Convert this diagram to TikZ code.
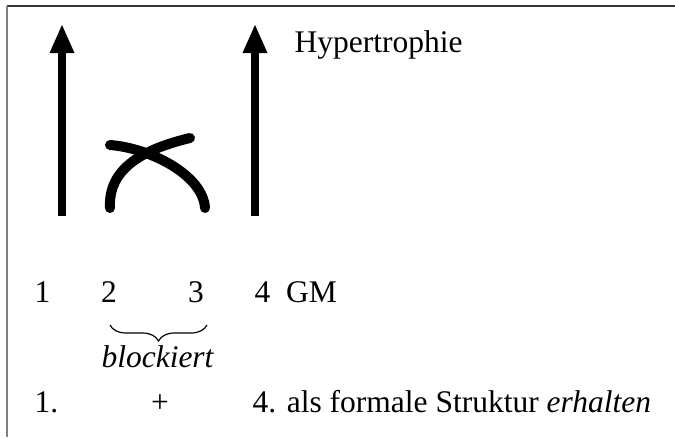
\documentclass[tikz,border=0pt]{standalone}
\usepackage{fontspec}
\setmainfont{Liberation Serif}
\usetikzlibrary{decorations.pathreplacing}
\begin{document}
\begin{tikzpicture}[x=1pt,y=-1pt,
  txt/.style={inner sep=0pt,anchor=base west,font=\fontsize{31.5}{38}\selectfont},
  txtc/.style={inner sep=0pt,anchor=base,font=\fontsize{31.5}{38}\selectfont},
  shaft/.style={line width=8pt},
  stroke/.style={line width=10pt,line cap=round,line join=round},
  head/.style={fill=black}]
\useasboundingbox (0,0) rectangle (675,437);
% frame
\draw[line width=1.5pt,black!80] (7,6) -- (675,6);
\draw[line width=1.5pt,black!50] (7,6) -- (7,437);
% arrows
\coordinate (a1b) at (62,216);
\coordinate (a1t) at (62,50);
\draw[shaft] (a1b) -- (a1t);
\fill[head] (49.5,53) -- (62,25) -- (74.5,53) -- cycle;
\coordinate (a2b) at (255,216);
\coordinate (a2t) at (255,50);
\draw[shaft] (a2b) -- (a2t);
\fill[head] (242.5,53) -- (255,25) -- (267.5,53) -- cycle;
% crossed curves
\draw[stroke] (110,208) .. controls (108,170) and (140,150) .. (190,138);
\draw[stroke] (110,145) .. controls (150,148) and (203,175) .. (205,208);
% texts
\node[txt] (hyp) at (294.5,52) {Hypertrophie};
\node[txt] (n1) at (34.5,302) {1};
\node[txt] (n2) at (101,302) {2};
\node[txt] (n3) at (188,302) {3};
\node[txt] (n4) at (254.5,302) {4};
\node[txt] (gm) at (286,302) {GM};
\draw[line width=1.2pt,decorate,decoration={brace,mirror,amplitude=16pt}] (110,325) -- (207,325);
\node[txtc] (bl) at (157.5,367) {\itshape blockiert};
\node[txt] (m1) at (34.5,412) {1.};
\node[txtc] (plus) at (160,412) {+};
\node[txt] (m4) at (252.5,412) {4. als formale Struktur \textit{erhalten}};
\end{tikzpicture}
\end{document}
